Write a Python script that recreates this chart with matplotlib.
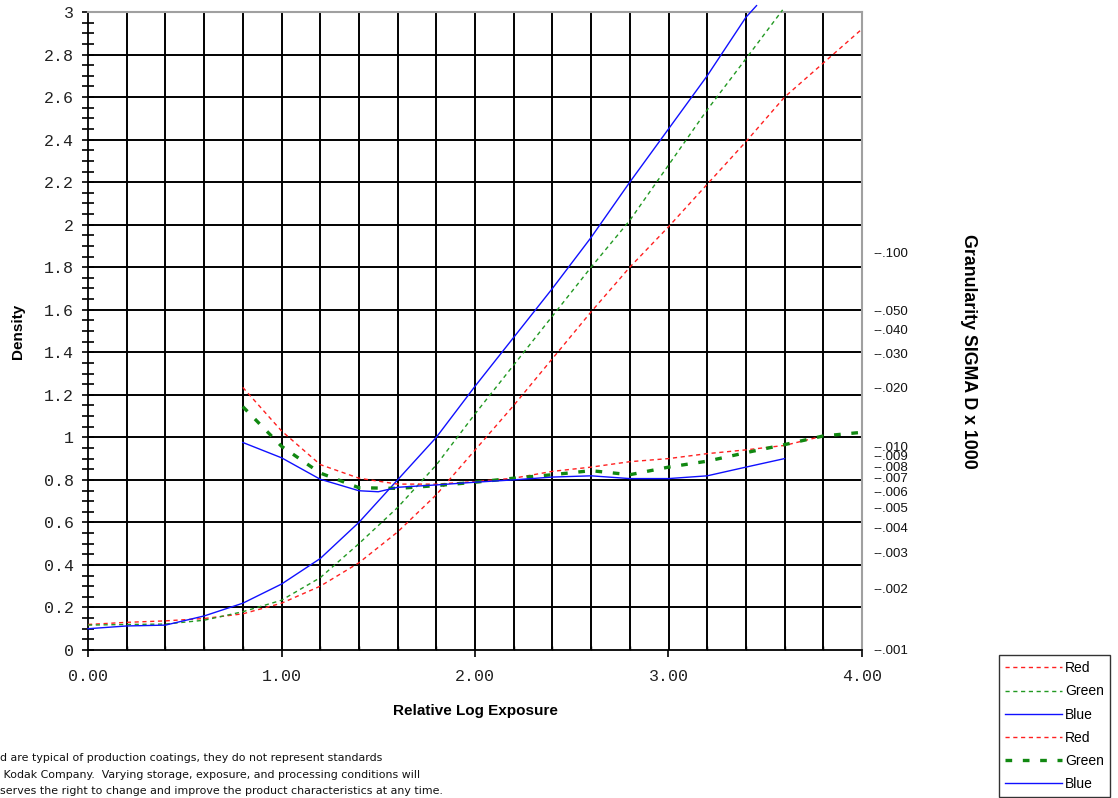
import numpy as np
import matplotlib
matplotlib.use("Agg")
import matplotlib.pyplot as plt

# ---------------- data ----------------
# characteristic curves (density vs relative log exposure)
red_x = [0.0, 0.2, 0.4, 0.6, 0.8, 1.0, 1.2, 1.4, 1.6, 1.8, 2.0, 2.2, 2.4, 2.6, 2.8, 3.0, 3.2, 3.4, 3.6, 3.8, 4.0]
red_density = [0.12, 0.13, 0.137, 0.148, 0.17, 0.22, 0.30, 0.41, 0.555, 0.73, 0.94, 1.15, 1.37, 1.59, 1.80, 1.99, 2.19, 2.39, 2.60, 2.76, 2.92]

green_x = [0.0, 0.2, 0.4, 0.6, 0.8, 1.0, 1.2, 1.4, 1.6, 1.8, 2.0, 2.2, 2.4, 2.6, 2.8, 3.0, 3.2, 3.4, 3.59]
green_density = [0.117, 0.12, 0.122, 0.14, 0.18, 0.234, 0.34, 0.50, 0.67, 0.87, 1.11, 1.34, 1.57, 1.80, 2.02, 2.28, 2.54, 2.78, 3.01]

blue_x = [0.0, 0.2, 0.4, 0.6, 0.8, 1.0, 1.2, 1.4, 1.6, 1.8, 2.0, 2.2, 2.4, 2.6, 2.8, 3.0, 3.2, 3.4, 3.455]
blue_density = [0.10, 0.113, 0.117, 0.16, 0.22, 0.31, 0.43, 0.60, 0.80, 1.00, 1.24, 1.47, 1.70, 1.94, 2.20, 2.45, 2.70, 2.975, 3.03]

# granularity curves (sigma D, right-hand log axis)
red_gran_x = [0.8, 1.0, 1.2, 1.4, 1.6, 1.8, 2.0, 2.2, 2.4, 2.6, 2.8, 3.0, 3.2, 3.4, 3.6, 3.8]
red_gran = [0.0201, 0.0120, 0.00813, 0.00697, 0.00652, 0.00652, 0.00671, 0.00697, 0.00753, 0.0079, 0.0084, 0.0087, 0.0092, 0.0096, 0.0101, 0.0113]

green_gran_x = [0.8, 1.0, 1.2, 1.4, 1.6, 1.8, 2.0, 2.2, 2.4, 2.6, 2.8, 3.0, 3.2, 3.4, 3.6, 3.8, 4.0]
green_gran = [0.0160, 0.0100, 0.00739, 0.00626, 0.00621, 0.00641, 0.00666, 0.00697, 0.00725, 0.00759, 0.00725, 0.0079, 0.00845, 0.0093, 0.0102, 0.0113, 0.0118]

blue_gran_x = [0.8, 1.0, 1.2, 1.4, 1.5, 1.6, 1.8, 2.0, 2.2, 2.4, 2.6, 2.8, 3.0, 3.2, 3.4, 3.6]
blue_gran = [0.01046, 0.00878, 0.00689, 0.00605, 0.00598, 0.00629, 0.00646, 0.00666, 0.00684, 0.00706, 0.00716, 0.00694, 0.00694, 0.00716, 0.0079, 0.0087]

density_ticks = [0, 0.2, 0.4, 0.6, 0.8, 1, 1.2, 1.4, 1.6, 1.8, 2, 2.2, 2.4, 2.6, 2.8, 3]
density_labels = ["0", "0.2", "0.4", "0.6", "0.8", "1", "1.2", "1.4", "1.6", "1.8", "2", "2.2", "2.4", "2.6", "2.8", "3"]
exposure_ticks = [0, 1, 2, 3, 4]
exposure_labels = ["0.00", "1.00", "2.00", "3.00", "4.00"]
gran_ticks = [0.001, 0.002, 0.003, 0.004, 0.005, 0.006, 0.007, 0.008, 0.009, 0.010, 0.020, 0.030, 0.040, 0.050, 0.100]
gran_labels = ["--.001", "--.002", "--.003", "--.004", "--.005", "--.006", "--.007", "--.008", "--.009", "--.010",
               "--.020", "--.030", "--.040", "--.050", "--.100"]

footer_lines = [
    "d are typical of production coatings, they do not represent standards",
    " Kodak Company.  Varying storage, exposure, and processing conditions will",
    "serves the right to change and improve the product characteristics at any time.",
]

# ---------------- figure ----------------
W, H = 1118, 798
fig = plt.figure(figsize=(W / 100, H / 100), dpi=100)
L, R, T, B = 88, 862, 12, 650
ax = fig.add_axes([L / W, 1 - B / H, (R - L) / W, (B - T) / H])
ax.set_xlim(0, 4)
ax.set_ylim(0, 3)

mono = "Liberation Mono"
sans = "Liberation Sans"

# grid
ax.set_axisbelow(True)
ax.set_xticks(np.arange(0, 4.01, 0.2), minor=True)
ax.set_yticks(np.arange(0, 3.01, 0.05), minor=True)
ax.set_xticks(exposure_ticks)
ax.set_xticklabels(exposure_labels, family=mono, fontsize=12, color="#222222")
ax.set_yticks(density_ticks)
ax.set_yticklabels(density_labels, family=mono, fontsize=12, color="#222222")
for v in np.arange(0.2, 4.0, 0.2):
    ax.axvline(v, color="black", lw=1.4, zorder=0.5)
for v in np.arange(0.2, 3.0, 0.2):
    ax.axhline(v, color="black", lw=1.4, zorder=0.5)

ax.tick_params(axis="y", which="both", direction="inout", length=8, width=1.2, color="black", pad=6)
ax.tick_params(axis="x", which="major", direction="out", length=5, width=1.2, pad=9)
ax.tick_params(axis="x", which="minor", direction="in", length=3, width=1.0)

for s in ["top", "right"]:
    ax.spines[s].set_color("#a0a0a0")
    ax.spines[s].set_linewidth(1.5)
for s in ["left", "bottom"]:
    ax.spines[s].set_color("black")
    ax.spines[s].set_linewidth(1.3)

# density curves
l_red, = ax.plot(red_x, red_density, color="#ff2020", lw=1.0, ls=(0, (3.0, 2.6)), clip_on=False, zorder=3)
l_green, = ax.plot(green_x, green_density, color="#229922", lw=1.0, ls=(0, (3.0, 2.6)), clip_on=False, zorder=3)
l_blue, = ax.plot(blue_x, blue_density, color="#1010ff", lw=1.0, ls="-", clip_on=False, zorder=3)

ax.set_xlabel("Relative Log Exposure", family=sans, fontweight="bold", fontsize=11, labelpad=14)
ax.set_ylabel("Density", family=sans, fontweight="bold", fontsize=11, labelpad=14)

# granularity axis (log, piecewise per decade as in the reference)
def fwd(g):
    g = np.asarray(g, dtype=float)
    l = np.log10(np.clip(g, 1e-12, None) / 0.001)
    return np.where(l <= 1, 0.958 * l, 0.958 + 0.913 * (l - 1))

def inv(d):
    d = np.asarray(d, dtype=float)
    l = np.where(d <= 0.958, d / 0.958, 1 + (d - 0.958) / 0.913)
    return 0.001 * 10 ** l

ax2 = ax.twinx()
ax2.set_yscale("function", functions=(fwd, inv))
ax2.set_ylim(inv(0.0), inv(3.0))
ax2.set_yticks(gran_ticks)
ax2.set_yticklabels(gran_labels, family=sans, fontsize=9.5, color="#111111")
ax2.yaxis.set_minor_locator(matplotlib.ticker.NullLocator())
ax2.tick_params(axis="y", length=0, pad=8)
for s in ax2.spines.values():
    s.set_visible(False)

g_red, = ax2.plot(red_gran_x, red_gran, color="#ff2020", lw=1.0, ls=(0, (3.0, 2.6)), zorder=3)
g_green, = ax2.plot(green_gran_x, green_gran, color="#118811", lw=2.4, ls=(0, (2.0, 3.2)), zorder=3)
g_blue, = ax2.plot(blue_gran_x, blue_gran, color="#1010ff", lw=1.0, ls="-", zorder=3)

fig.text(969 / W, 1 - 351 / H, "Granularity SIGMA D x 1000", rotation=-90, family=sans,
         fontweight="bold", fontsize=12.8, ha="center", va="center")

# legend
leg = fig.legend([l_red, l_green, l_blue, g_red, g_green, g_blue],
                 ["Red", "Green", "Blue", "Red", "Green", "Blue"],
                 loc="upper left", bbox_to_anchor=(999 / W, 1 - 655 / H),
                 prop={"family": sans, "size": 10}, handlelength=4.1, handletextpad=0.2,
                 labelspacing=0.66, borderpad=0.45, borderaxespad=0.0, fancybox=False,
                 frameon=True, edgecolor="#333333", framealpha=1)
leg.get_frame().set_linewidth(1.0)

# footer
for line, yy in zip(footer_lines, [758, 775, 791]):
    fig.text(0 / W, 1 - yy / H, line, family="DejaVu Sans", fontsize=7.95, ha="left", va="center", color="#111111")

fig.savefig("out.png", dpi=100)
